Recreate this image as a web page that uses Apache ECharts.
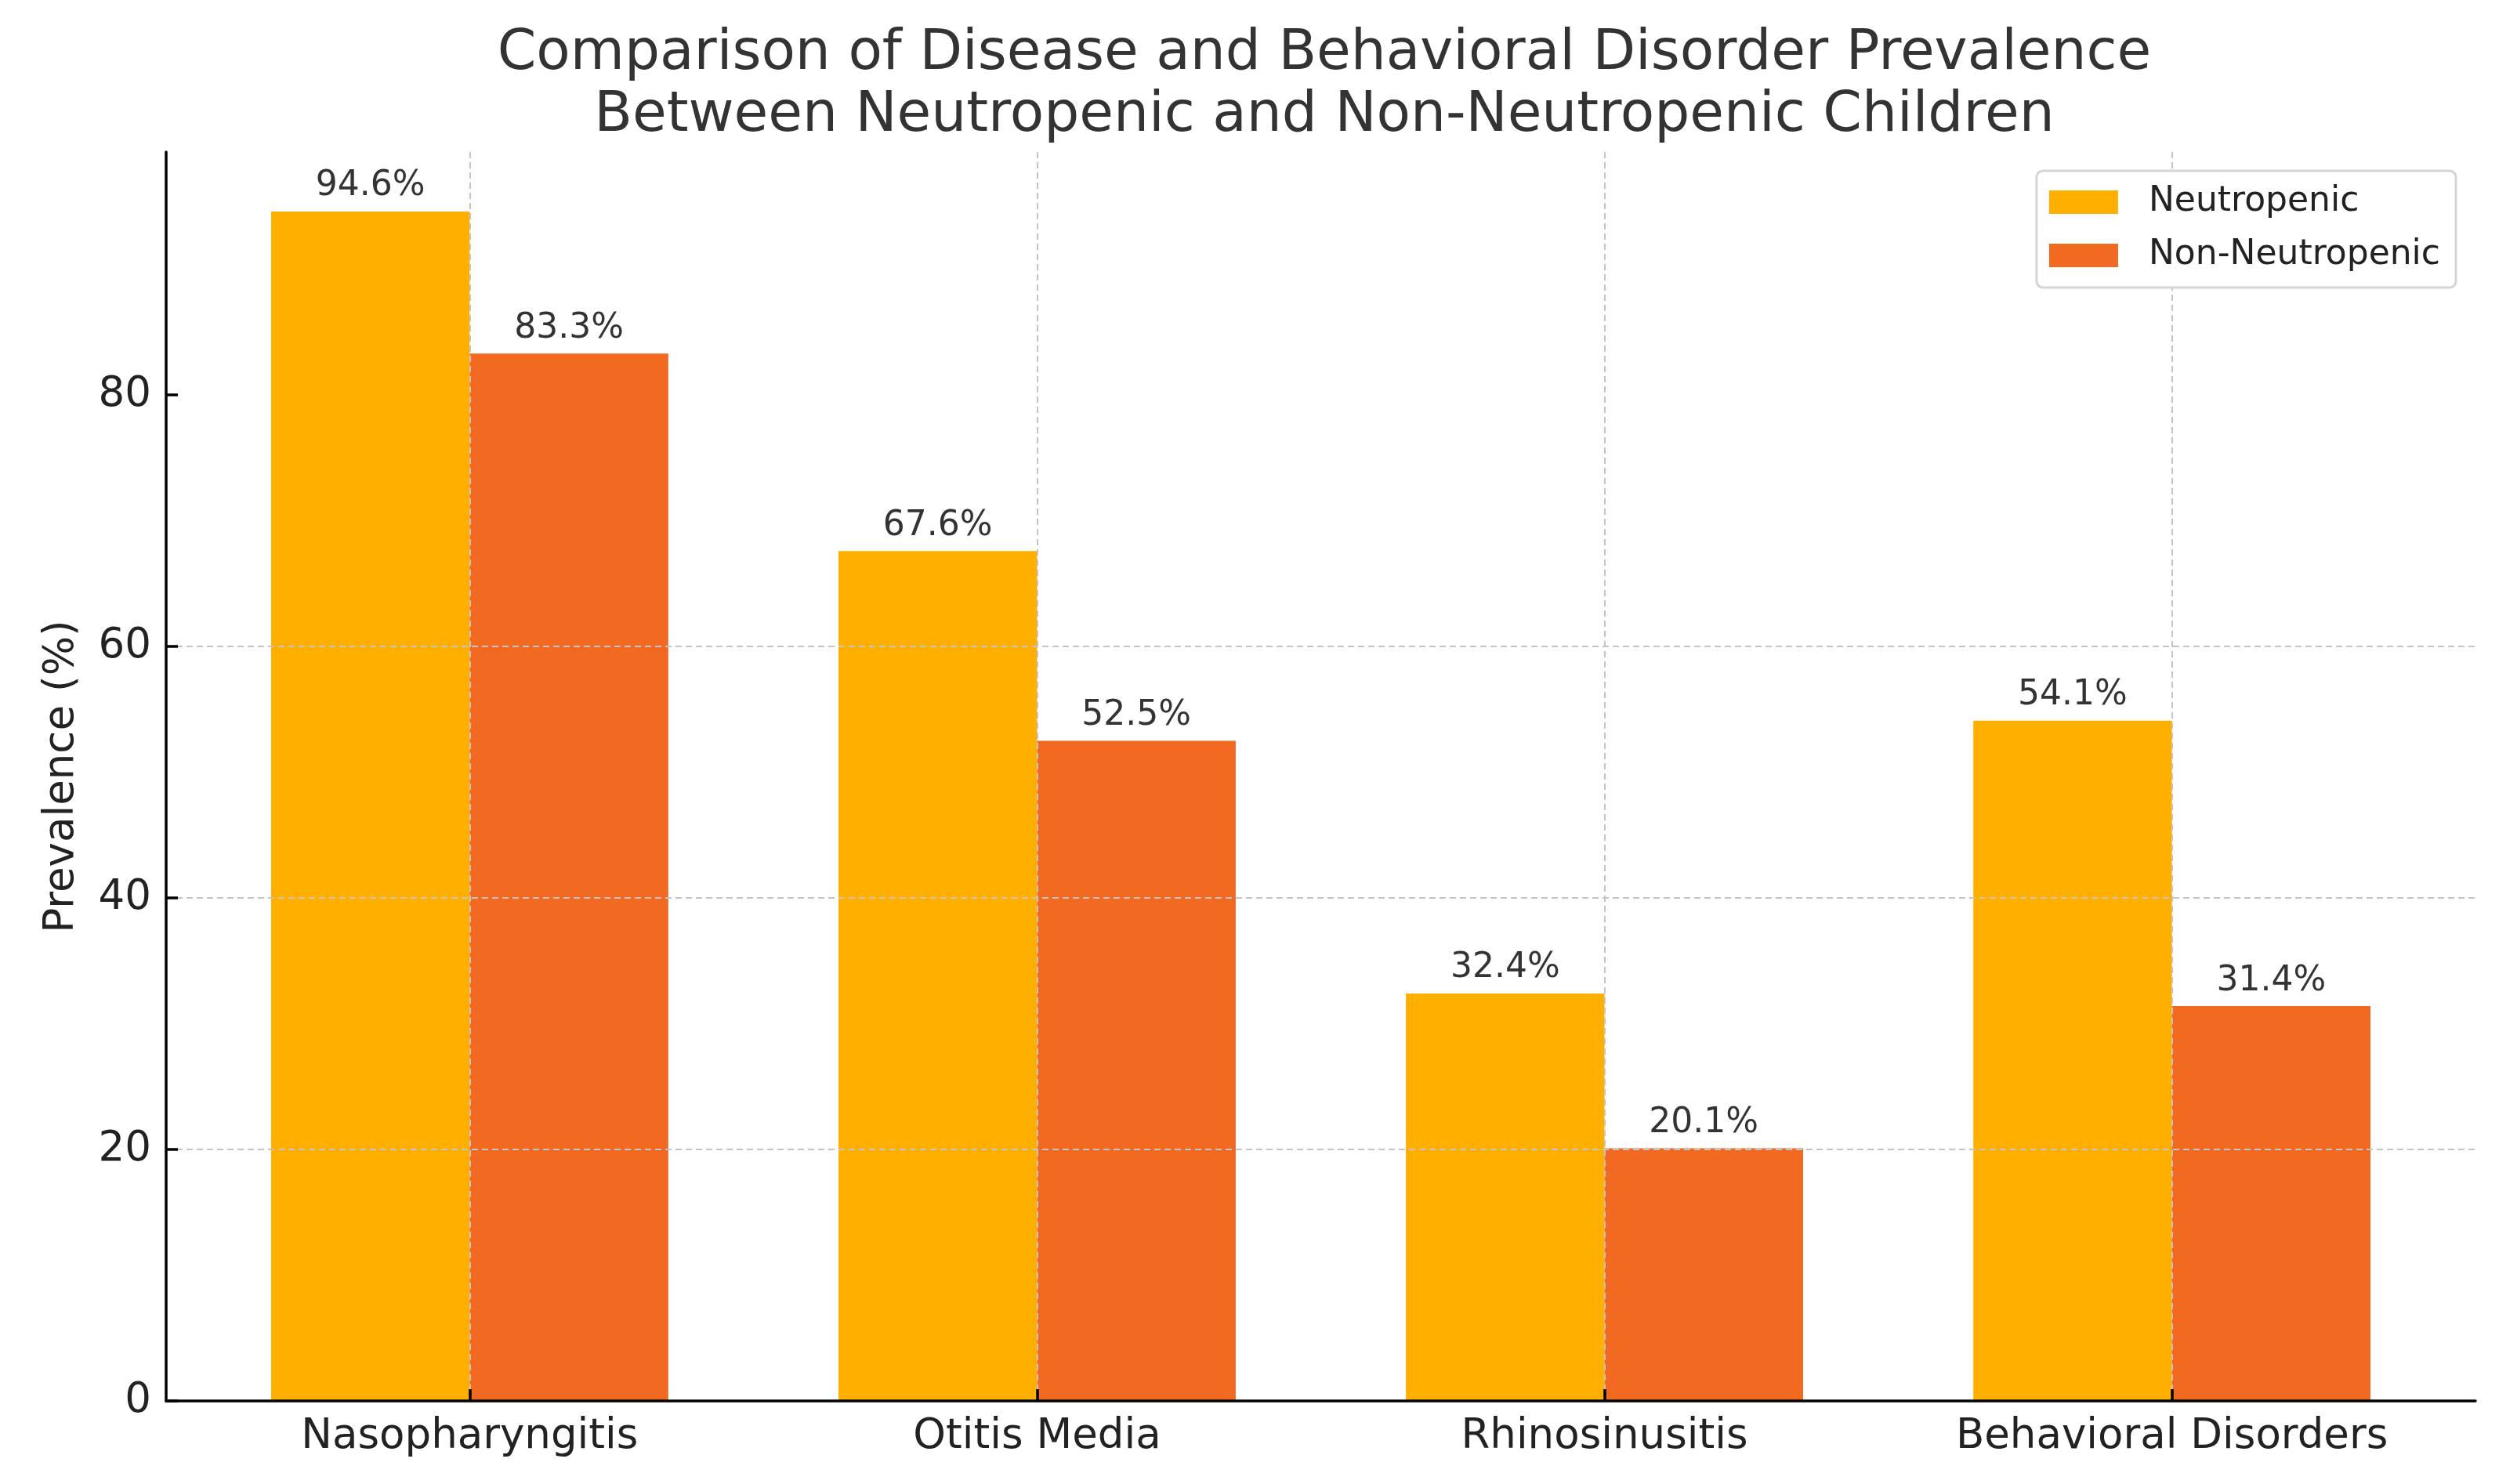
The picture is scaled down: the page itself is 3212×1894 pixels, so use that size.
<!DOCTYPE html>
<html>
<head>
<meta charset="utf-8">
<script src="https://cdn.jsdelivr.net/npm/echarts@6/dist/echarts.min.js"></script>
<style>
html,body{margin:0;padding:0;background:#fff;}
#chart{width:3212px;height:1894px;}
</style>
</head>
<body>
<div id="chart"></div>
<script>
const categories = ['Nasopharyngitis', 'Otitis Media', 'Rhinosinusitis', 'Behavioral Disorders'];
const neutropenic = [94.6, 67.6, 32.4, 54.1];
const nonNeutropenic = [83.3, 52.5, 20.1, 31.4];
const yTicks = [0, 20, 40, 60, 80];
const seriesNames = ['Neutropenic', 'Non-Neutropenic'];
const titleLines = ['Comparison of Disease and Behavioral Disorder Prevalence', 'Between Neutropenic and Non-Neutropenic Children'];
const yAxisTitle = 'Prevalence (%)';

const FONT = 'DejaVu Sans';
const catIdx = categories.map((c, i) => i);

const chart = echarts.init(document.getElementById('chart'), null, {renderer: 'canvas'});
const labelCfg = {
  show: true, position: 'top', distance: 10,
  formatter: p => p.value[1].toFixed(1) + '%',
  fontFamily: FONT, fontSize: 44, color: '#333'
};
chart.setOption({
  backgroundColor: '#ffffff',
  animation: false,
  title: {
    text: titleLines.join('\n'),
    left: 1685, top: 25, textAlign: 'center',
    textStyle: {fontFamily: FONT, fontSize: 71, fontWeight: 'normal', color: '#333', lineHeight: 79}
  },
  legend: {
    orient: 'vertical', right: 78, top: 218,
    itemWidth: 88, itemHeight: 30, itemGap: 24,
    padding: [18, 20, 19, 16],
    borderColor: '#d5d5d5', borderWidth: 3, borderRadius: 8,
    backgroundColor: '#ffffff',
    icon: 'rect',
    textStyle: {fontFamily: FONT, fontSize: 44, color: '#222', padding: [0, 0, 0, 34]},
    data: seriesNames
  },
  grid: {left: 212, right: 53, top: 194, bottom: 106, containLabel: false},
  xAxis: {
    type: 'value', min: -0.535, max: 3.535, z: 3,
    axisLine: {show: true, onZero: false, lineStyle: {color: '#000', width: 3.5}},
    axisTick: {show: true, inside: true, length: 15, lineStyle: {color: '#000', width: 3.5}, customValues: catIdx},
    axisLabel: {customValues: catIdx, formatter: v => categories[Math.round(v)] || '', fontFamily: FONT, fontSize: 53, color: '#222', margin: 20},
    splitLine: {show: true, lineStyle: {color: '#c4c4c4', width: 2, type: [8, 5]}}
  },
  yAxis: {
    type: 'value', min: 0, max: 99.33, interval: 20, z: 3,
    name: yAxisTitle, nameLocation: 'middle', nameGap: 106, nameRotate: 90,
    nameTextStyle: {fontFamily: FONT, fontSize: 53, color: '#222'},
    axisLine: {show: true, onZero: false, lineStyle: {color: '#000', width: 3.5}},
    axisTick: {show: true, inside: true, length: 15, lineStyle: {color: '#000', width: 3.5}, customValues: yTicks},
    axisLabel: {customValues: yTicks, fontFamily: FONT, fontSize: 53, color: '#222', margin: 19},
    splitLine: {show: true, showMinLine: false, showMaxLine: false, lineStyle: {color: '#c4c4c4', width: 2, type: [8, 5]}}
  },
  series: [
    {
      name: seriesNames[0], type: 'bar', barWidth: '35%', barGap: '0%',
      itemStyle: {color: '#FFAF00'},
      label: labelCfg,
      data: neutropenic.map((v, i) => [i, v])
    },
    {
      name: seriesNames[1], type: 'bar', barWidth: '35%', barGap: '0%',
      itemStyle: {color: '#F26A22'},
      label: labelCfg,
      data: nonNeutropenic.map((v, i) => [i, v])
    }
  ]
});
</script>
</body>
</html>
